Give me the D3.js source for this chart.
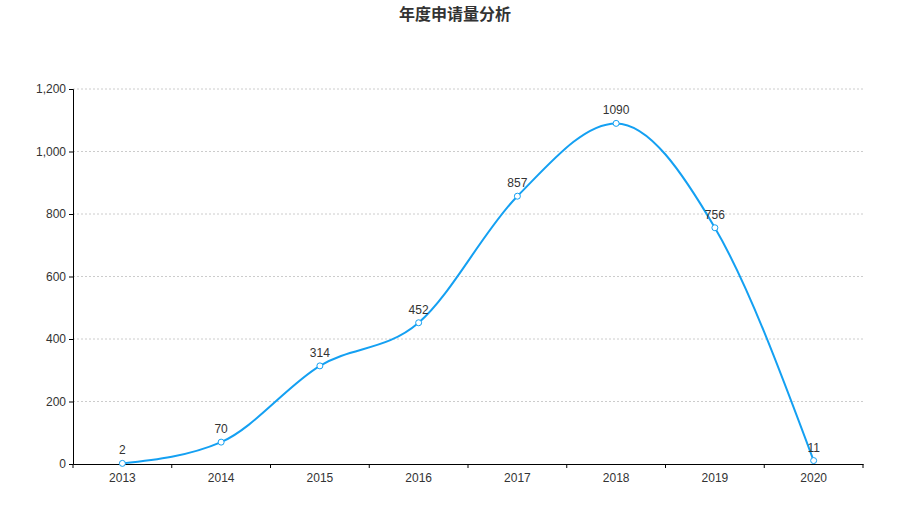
<!DOCTYPE html>
<html><head><meta charset="utf-8">
<script src="https://cdn.jsdelivr.net/npm/d3@7"></script>
<style>body{margin:0;background:#fff;font-family:"Noto Sans CJK SC",Arial,sans-serif;}</style>
</head><body><svg id="c" width="910" height="520"></svg>
<script>
const years = ['2013','2014','2015','2016','2017','2018','2019','2020'];
const counts = [2, 70, 314, 452, 857, 1090, 756, 11];
const yTicks = [0, 200, 400, 600, 800, 1000, 1200];

const svg = d3.select('#c');
const margin = { top: 89, right: 47, bottom: 56, left: 73 };
const W = 910, H = 520;
const x = d3.scaleBand().domain(years).range([margin.left, W - margin.right]);
const y = d3.scaleLinear().domain([0, 1200]).range([H - margin.bottom, margin.top]);
const cx = (d) => x(d) + x.bandwidth() / 2;
const color = '#14a0f2';

svg.append('text').attr('x', 455).attr('y', 20).attr('text-anchor', 'middle')
  .style('font-size', '16px').style('font-weight', 'bold').attr('fill', '#333').text('年度申请量分析');

// grid
svg.append('g').selectAll('line').data(yTicks.slice(1)).enter().append('line')
  .attr('x1', margin.left).attr('x2', W - margin.right)
  .attr('y1', (d) => y(d)).attr('y2', (d) => y(d))
  .attr('stroke', '#ccc').attr('stroke-dasharray', '2,2');

const yAxis = svg.append('g').attr('transform', `translate(${margin.left},0)`)
  .call(d3.axisLeft(y).tickValues(yTicks).tickFormat(d3.format(',')).tickSize(4));
const xAxis = svg.append('g').attr('transform', `translate(0,${H - margin.bottom})`)
  .call(d3.axisBottom(x).tickSize(0).tickPadding(9));
xAxis.selectAll('.tick').append('line').attr('x1', x.bandwidth() / 2).attr('x2', x.bandwidth() / 2)
  .attr('y2', 4).attr('stroke', '#000');
xAxis.append('line').attr('x1', margin.left).attr('x2', margin.left).attr('y2', 4).attr('stroke', '#000');
[xAxis, yAxis].forEach((a) => a.selectAll('text').style('font-size', '12px').attr('fill', '#333')
  .style('font-family', 'Arial, "Liberation Sans", sans-serif'));

const data = years.map((d, i) => ({ year: d, v: counts[i] }));
const line = d3.line().x((d) => cx(d.year)).y((d) => y(d.v)).curve(d3.curveMonotoneX);
svg.append('path').datum(data).attr('d', line).attr('fill', 'none').attr('stroke', color).attr('stroke-width', 2);

svg.selectAll('.pt').data(data).enter().append('circle')
  .attr('cx', (d) => cx(d.year)).attr('cy', (d) => y(d.v)).attr('r', 3)
  .attr('fill', '#fff').attr('stroke', color).attr('stroke-width', 1);

svg.selectAll('.lbl').data(data).enter().append('text')
  .attr('x', (d) => cx(d.year)).attr('y', (d) => y(d.v) - 9).attr('text-anchor', 'middle')
  .style('font-size', '12px').style('font-family', 'Arial, "Liberation Sans", sans-serif')
  .attr('fill', '#333').text((d) => d.v);
</script></body></html>
